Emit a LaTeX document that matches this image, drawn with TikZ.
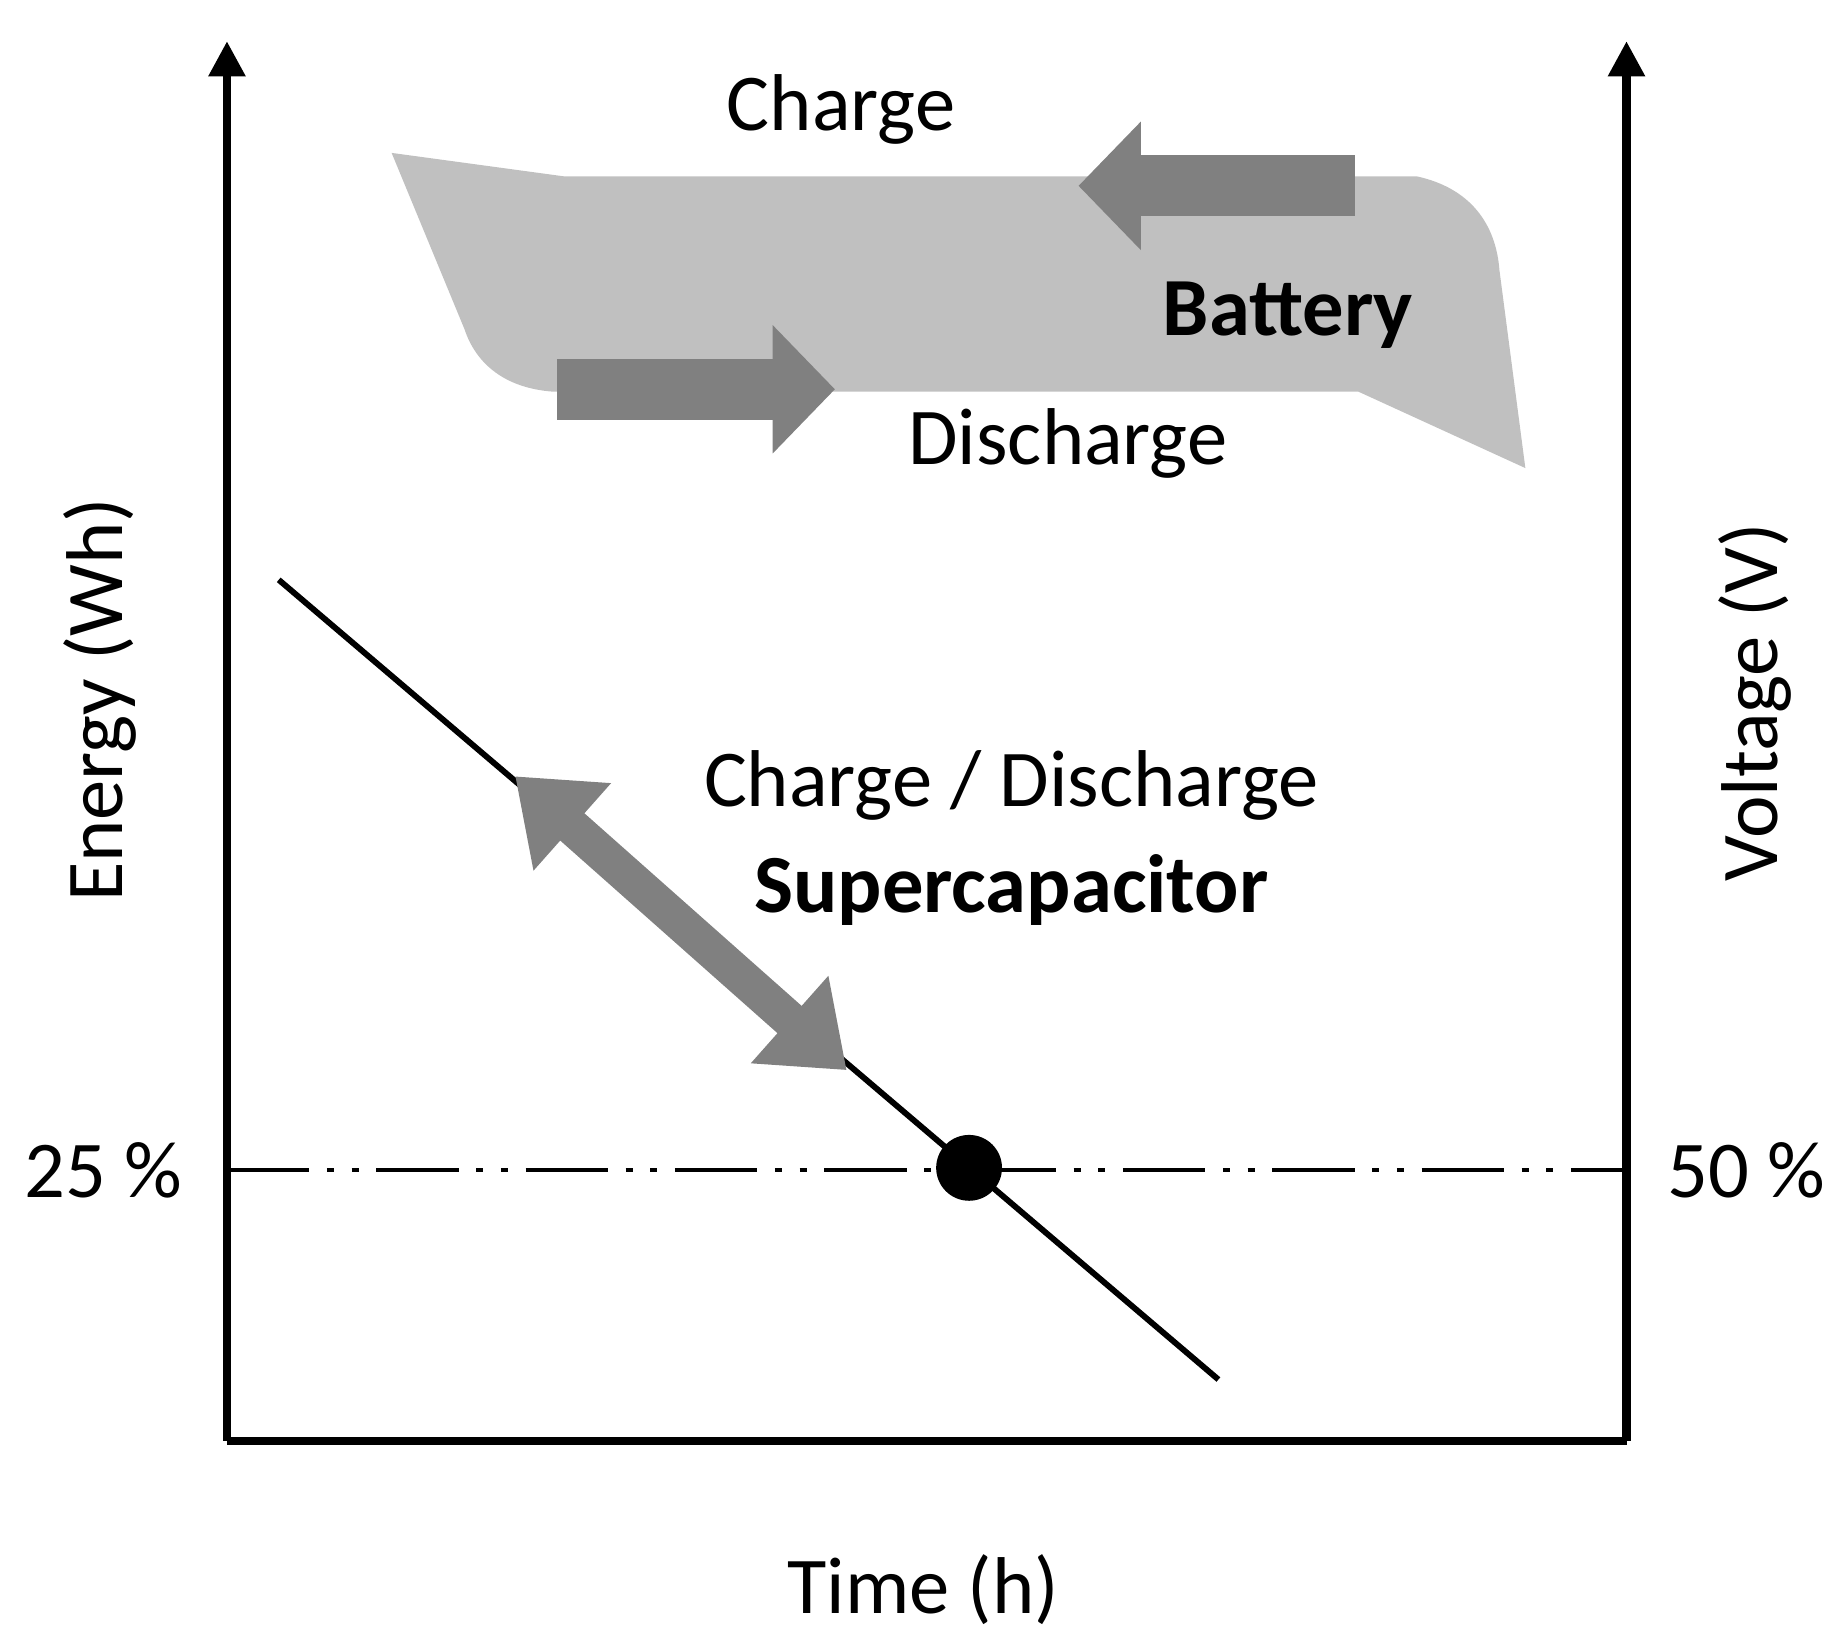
\documentclass[tikz,border=0pt]{standalone}
\usepackage{fontspec}
\setmainfont{Carlito}
\usetikzlibrary{arrows.meta}
\begin{document}
\begin{tikzpicture}[x=0.02cm,y=-0.02cm,
  lbl/.style={font=\fontsize{39}{45}\selectfont,inner sep=0pt},
  blbl/.style={lbl,font=\fontsize{40}{46}\selectfont\bfseries},
  axis/.style={line width=0.14cm,-{Triangle[length=0.6cm,width=0.6cm]}},
  garrow/.style={draw=arrowgray,line width=1.04cm,-{Triangle[length=1.06cm,width=2.12cm]}}]
\definecolor{arrowgray}{HTML}{808080}
\definecolor{battgray}{HTML}{C0C0C0}
\useasboundingbox (0,0) rectangle (1562,1401);
% battery shape
\fill[battgray] (333,130) -- (480,150) -- (1205,150) .. controls (1250,160) and (1272,190) .. (1275,230)
  -- (1297,398) -- (1155,333) -- (470,333) .. controls (430,330) and (405,310) .. (395,280) -- cycle;
\coordinate (c1) at (1152,158); \coordinate (c2) at (917,158);
\draw[garrow] (c1) -- (c2);
\coordinate (d1) at (474,331); \coordinate (d2) at (710,331);
\draw[garrow] (d1) -- (d2);
\node[lbl] (charge) at (715,93) {Charge};
\node[lbl] (discharge) at (908,377) {Discharge};
\node[blbl] (battery) at (1095,268) {Battery};
% axes
\coordinate (o) at (193,1225); \coordinate (ly) at (193,35);
\coordinate (r0) at (1383,1225); \coordinate (ry) at (1383,35);
\draw[axis] (o) -- (ly);
\draw[axis] (r0) -- (ry);
\draw[line width=0.14cm] (o) -- (r0);
% dash dot
\coordinate (h1) at (193,995); \coordinate (h2) at (1383,995);
\draw[line width=0.07cm,dash pattern=on 1.4cm off 0.3cm on 0.12cm off 0.3cm on 0.12cm off 0.3cm] (h1) -- (h2);
% line
\coordinate (s1) at (237,493); \coordinate (s2) at (1036,1173);
\draw[line width=0.1cm] (s1) -- (s2);
\fill (824,993) circle (0.56cm) node (dot) {};
% double arrow
\coordinate (a1) at (438,660); \coordinate (a2) at (720,910);
\draw[draw=arrowgray,line width=0.62cm,{Triangle[length=1.3cm,width=1.9cm]}-{Triangle[length=1.3cm,width=1.9cm]}] (a1) -- (a2);
\node[lbl] (cd) at (860,668) {Charge / Discharge};
\node[blbl] (sc) at (860,757) {Supercapacitor};
\node[lbl] (p25) at (88,995) {25 \%};
\node[lbl] (p50) at (1485,995) {50 \%};
\node[lbl,rotate=90] (en) at (85,595) {Energy (Wh)};
\node[lbl,rotate=90] (vo) at (1492,597) {Voltage (V)};
\node[lbl] (time) at (785,1352) {Time (h)};
\end{tikzpicture}
\end{document}
